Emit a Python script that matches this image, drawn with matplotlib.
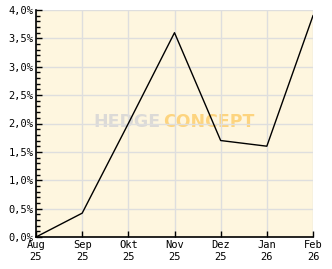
import numpy as np
import matplotlib.pyplot as plt
from matplotlib.ticker import MultipleLocator

# Datos
meses = ['Aug\n25', 'Sep\n25', 'Okt\n25', 'Nov\n25', 'Dez\n25', 'Jan\n26', 'Feb\n26']
valores = [0.0, 0.42, 2.0, 3.6, 1.7, 1.6, 3.9]
yticks = [0.0, 0.5, 1.0, 1.5, 2.0, 2.5, 3.0, 3.5, 4.0]

fig = plt.figure(figsize=(3.32, 2.69), dpi=100)
ax = fig.add_axes([36/332, 1-237/269, 277/332, 227/269])
ax.set_facecolor('#fef6df')

x = np.arange(len(meses))
ax.plot(x, valores, color='k', linewidth=1.0, zorder=3)

ax.set_xlim(0, len(meses)-1)
ax.set_ylim(0, 4.0)
ax.set_xticks(x)
ax.set_xticklabels(meses, fontsize=7.5, family='DejaVu Sans Mono', linespacing=1.3)
ax.set_yticks(yticks)
ax.set_yticklabels(['{:.1f}%'.format(v).replace('.', ',') for v in yticks],
                   fontsize=7.5, family='DejaVu Sans Mono')
ax.yaxis.set_minor_locator(MultipleLocator(0.1))
ax.tick_params(axis='both', which='both', direction='in', length=4, width=1, color='k', pad=2)
ax.tick_params(axis='y', which='minor', length=3)
ax.grid(True, which='major', color='#dedede', linewidth=1, zorder=0)

for s in ['top', 'right']:
    ax.spines[s].set_visible(False)
for s in ['left', 'bottom']:
    ax.spines[s].set_linewidth(1.2)

# Marca de agua
ax.text(0.448, 0.505, 'HEDGE', transform=ax.transAxes, ha='right', va='center',
        fontsize=12.5, fontweight='bold', color='#d6d6d6', alpha=0.85, zorder=1)
ax.text(0.458, 0.505, 'CONCEPT', transform=ax.transAxes, ha='left', va='center',
        fontsize=12.5, fontweight='bold', color='#fdcf6e', alpha=0.85, zorder=1)

plt.savefig('out.png', dpi=100)
